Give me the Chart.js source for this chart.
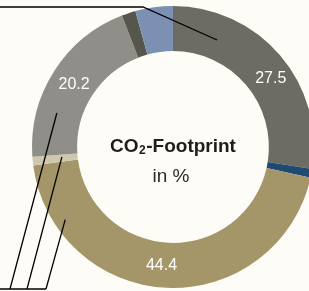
<!DOCTYPE html>
<html><head><meta charset="utf-8">
<script src="https://cdn.jsdelivr.net/npm/chart.js@4/dist/chart.umd.min.js"></script>
<style>
html,body{margin:0;padding:0;background:#fdfcf7;overflow:hidden;width:309px;height:291px;}
#wrap{position:absolute;left:0;top:0;width:346px;height:294px;}
</style></head>
<body>
<div id="wrap"><canvas id="c" width="346" height="294"></canvas></div>
<script>
const categories = ["A","B","C","D","E","F","G"];
const values = [27.5, 1.0, 44.4, 1.0, 20.2, 1.6, 4.3];
const labelsShown = ["27.5", "", "44.4", "", "20.2", "", ""];
const colors = ["#6c6b64","#1e4a71","#a5966a","#d0c8ae","#8f8e88","#55574c","#7b90b2"];
const labelAngleShift = [5.5, 0, 3, 0, 0, 0, 0]; // degrees
const labelRadiusFrac = [0.52, 0, 0.52, 0, 0.47, 0, 0];

const overlay = {
  id: 'overlay',
  afterDatasetsDraw(chart) {
    const ctx = chart.ctx;
    const meta = chart.getDatasetMeta(0);
    const a0 = meta.data[0];
    const cx = a0.x, cy = a0.y, ro = a0.outerRadius, ri = a0.innerRadius;
    const pt = (deg, r) => {
      const t = (deg - 90) * Math.PI / 180;
      return [cx + r * Math.cos(t), cy + r * Math.sin(t)];
    };
    const total = values.reduce((s, v) => s + v, 0);
    // segment labels
    ctx.save();
    ctx.fillStyle = '#ffffff';
    ctx.font = '16px "Liberation Sans", Arial, sans-serif';
    ctx.textAlign = 'center';
    ctx.textBaseline = 'middle';
    let cum = 0;
    values.forEach((v, i) => {
      const mid = (cum + v / 2) / total * 360 + labelAngleShift[i];
      cum += v;
      if (!labelsShown[i]) return;
      const r = ri + (ro - ri) * labelRadiusFrac[i];
      const p = pt(mid, r);
      ctx.fillText(labelsShown[i], p[0], p[1]);
    });
    ctx.restore();

    // center text
    ctx.save();
    ctx.fillStyle = '#1d1d1b';
    ctx.textBaseline = 'middle';
    const bold = 'bold 19px "Liberation Sans", Arial, sans-serif';
    const sub = 'bold 12px "Liberation Sans", Arial, sans-serif';
    ctx.font = bold;
    const w1 = ctx.measureText('CO').width;
    const w3 = ctx.measureText('-Footprint').width;
    ctx.font = sub;
    const w2 = ctx.measureText('2').width + 1;
    const tw = w1 + w2 + w3;
    const x = cx - tw / 2;
    const y = cy;
    ctx.font = bold;
    ctx.textAlign = 'left';
    ctx.fillText('CO', x, y);
    ctx.font = sub;
    ctx.fillText('2', x + w1 + 0.5, y + 4);
    ctx.font = bold;
    ctx.fillText('-Footprint', x + w1 + w2, y);
    ctx.font = '19px "Liberation Sans", Arial, sans-serif';
    ctx.fillStyle = '#2a2a28';
    ctx.textAlign = 'center';
    ctx.fillText('in %', cx - 2, cy + 30);
    ctx.restore();

    // leader lines
    ctx.save();
    ctx.strokeStyle = '#000';
    ctx.lineWidth = 1.3;
    const pA = pt(22.4, 115.7);
    ctx.beginPath();
    ctx.moveTo(0, cy - ro + 1);
    ctx.lineTo(143, cy - ro + 1);
    ctx.lineTo(pA[0], pA[1]);
    ctx.stroke();
    const baseY = 289;
    ctx.beginPath();
    ctx.moveTo(0, baseY); ctx.lineTo(46, baseY); ctx.stroke();
    const tops = [[286.3, 121, 10], [264.9, 111.5, 27], [236, 130, 46]];
    tops.forEach(([deg, r, bx]) => {
      const p = pt(deg, r);
      ctx.beginPath();
      ctx.moveTo(bx, baseY);
      ctx.lineTo(p[0], p[1]);
      ctx.stroke();
    });
    ctx.restore();
  }
};

new Chart(document.getElementById('c'), {
  type: 'doughnut',
  data: {
    labels: categories,
    datasets: [{
      data: values,
      backgroundColor: colors,
      borderWidth: 0
    }]
  },
  options: {
    responsive: false,
    animation: false,
    cutout: '68%',
    layout: { padding: { left: 32, right: 32, top: 6, bottom: 6 } },
    plugins: { legend: { display: false }, tooltip: { enabled: false } }
  },
  plugins: [overlay]
});
</script>
</body></html>
